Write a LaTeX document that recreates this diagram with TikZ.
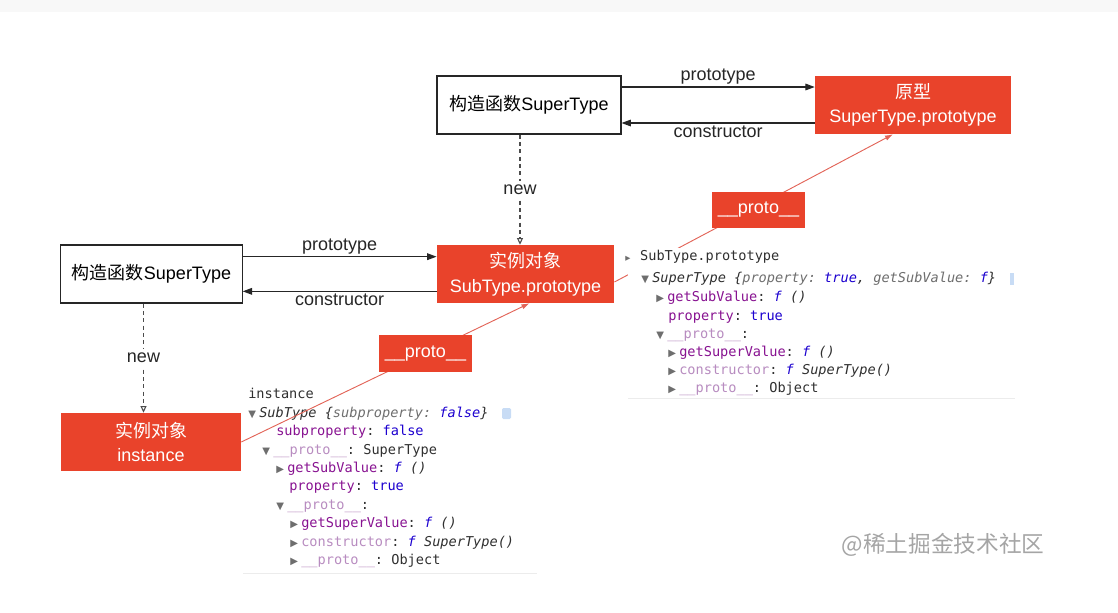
\documentclass[tikz,border=0pt]{standalone}
\usepackage{fontspec}
\setmainfont{Liberation Sans}
\setmonofont{DejaVu Sans Mono}
\newfontfamily\cjk{Noto Sans CJK SC}
\newfontfamily\symfont{DejaVu Sans}
\usetikzlibrary{calc,arrows.meta,positioning}
\definecolor{protoRed}{RGB}{233,67,43}
\definecolor{linkRed}{RGB}{226,100,88}
\definecolor{barGray}{RGB}{248,248,248}
\definecolor{consolePurple}{RGB}{136,19,145}
\definecolor{consoleDim}{RGB}{184,140,192}
\definecolor{consoleBlue}{RGB}{28,0,207}
\definecolor{consoleGray}{RGB}{110,110,110}
\definecolor{consoleText}{RGB}{48,48,48}
\definecolor{infoBlue}{RGB}{200,220,245}
\definecolor{markGray}{RGB}{165,165,165}
\newcommand{\TriDown}{{\symfont\fontsize{7.5}{8}\selectfont\color{consoleGray}▼}\hspace{2.5pt}}
\newcommand{\TriRight}{{\symfont\fontsize{7.5}{8}\selectfont\color{consoleGray}▶}\hspace{2.5pt}}
\newcommand{\Key}[1]{\textcolor{consolePurple}{#1}}
\newcommand{\DimKey}[1]{\textcolor{consoleDim}{#1}}
\newcommand{\Val}[1]{\textcolor{consoleBlue}{#1}}
\newcommand{\Fn}{\textcolor{consoleBlue}{\itshape f}}

\begin{document}
\begin{tikzpicture}[x=0.75pt,y=-0.75pt,
  boxfont/.style={font=\fontsize{13.5}{18.5}\selectfont},
  whitebox/.style={boxfont,draw=black!85,line width=0.8pt,fill=white,minimum height=43.5pt,align=center,inner sep=0pt},
  redbox/.style={boxfont,fill=protoRed,text=white,minimum height=43.5pt,align=center,inner sep=0pt},
  protobox/.style={boxfont,fill=protoRed,text=white,minimum width=70pt,minimum height=27.5pt,inner sep=0pt},
  flow/.style={black!85,line width=0.8pt,-{Triangle[length=7pt,width=5pt]}},
  newline/.style={black!70,line width=0.8pt,dash pattern=on 3pt off 2.5pt,-{Triangle[open,length=5pt,width=4.5pt]}},
  link/.style={linkRed,line width=0.7pt,-{Latex[length=6pt,width=4pt]}},
  edgelabel/.style={boxfont,text=black!85,inner sep=1.5pt},
  console/.style={anchor=west,inner sep=0pt,font=\ttfamily\fontsize{10.2}{12}\selectfont,text=consoleText}]
\useasboundingbox (0,0) rectangle (1118,612);
\fill[barGray] (0,0) rectangle (1118,12);

% constructors and prototypes
\node[whitebox,minimum width=138pt] (superCtor) at (529,105) {{\cjk 构造函数}SuperType};
\node[redbox,minimum width=147pt] (superProto) at (913,105) {{\cjk 原型}\\SuperType.prototype};
\node[redbox,minimum width=133pt] (subProto) at (525.5,274) {{\cjk 实例对象}\\SubType.prototype};
\node[whitebox,minimum width=136pt] (subCtor) at (151.5,274) {{\cjk 构造函数}SuperType};
\node[redbox,minimum width=135pt] (inst) at (151,442) {{\cjk 实例对象}\\instance};

\draw[flow] ([yshift=13.5pt]superCtor.east) -- node[edgelabel,above]{prototype} ([yshift=13.5pt]superProto.west);
\draw[flow] ([yshift=-13.5pt]superProto.west) -- node[edgelabel,below]{constructor} ([yshift=-13.5pt]superCtor.east);
\draw[flow] ([yshift=13pt]subCtor.east) -- node[edgelabel,above]{prototype} ([yshift=13pt]subProto.west);
\draw[flow] ([yshift=-13pt]subProto.west) -- node[edgelabel,below]{constructor} ([yshift=-13pt]subCtor.east);

\coordinate (newTop) at ([xshift=-6.75pt]superCtor.south);
\coordinate (newLeft) at ([xshift=-6pt]subCtor.south);
\draw[newline] (newTop) -- node[edgelabel,fill=white,inner sep=3pt]{new} (newTop |- subProto.north);
\draw[newline] (newLeft) -- node[edgelabel,fill=white,inner sep=3pt]{new} (newLeft |- inst.north);

% console: instance
\node[console] (lInst) at (248,393) {instance};
\node[console] (lSub) at (248,414) {\TriDown\textit{SubType \{\textcolor{consoleGray}{subproperty:} \Val{false}\}}};
\node[console] (lSubProp) at (276,432) {\Key{subproperty}: \Val{false}};
\node[console] (lProto) at (262,451) {\TriDown\DimKey{\_\_proto\_\_}: SuperType};
\node[console] (lGetSub) at (276,469) {\TriRight\Key{getSubValue}: \Fn\ \textit{()}};
\node[console] (lProp) at (289,487) {\Key{property}: \Val{true}};
\node[console] (lProto2) at (276,506) {\TriDown\DimKey{\_\_proto\_\_}:};
\node[console] (lGetSuper) at (290,524) {\TriRight\Key{getSuperValue}: \Fn\ \textit{()}};
\node[console] (lCons) at (290,543) {\TriRight\DimKey{constructor}: \Fn\ \textit{SuperType()}};
\node[console] (lObj) at (290,561) {\TriRight\DimKey{\_\_proto\_\_}: Object};
\fill[infoBlue,rounded corners=1pt] (502,408) rectangle (511,419);
\draw[gray!15] (243,573) -- (537,573);

% __proto__ links
\coordinate (linkStart) at ([yshift=-6pt]subProto.east);
\draw[link] (inst.east) -- ([xshift=3pt]subProto.south);
\draw[link] (linkStart) -- ([xshift=-15pt]superProto.south);

% console: SubType.prototype
\fill[white] (628,248) rectangle (1015,399);
\node[console] (rHead) at (625,257) {{\symfont\fontsize{5}{6}\selectfont\color{consoleGray}▶}\hspace{7.3pt}SubType.prototype};
\node[console] (rSuper) at (641,279) {\TriDown\textit{SuperType \{\textcolor{consoleGray}{property:} \Val{true}, \textcolor{consoleGray}{getSubValue:} \Val{f}\}}};
\node[console] (rGetSub) at (656,298) {\TriRight\Key{getSubValue}: \Fn\ \textit{()}};
\node[console] (rProp) at (668,317) {\Key{property}: \Val{true}};
\node[console] (rProto) at (656,335) {\TriDown\DimKey{\_\_proto\_\_}:};
\node[console] (rGetSuper) at (668,353) {\TriRight\Key{getSuperValue}: \Fn\ \textit{()}};
\node[console] (rCons) at (668,371) {\TriRight\DimKey{constructor}: \Fn\ \textit{SuperType()}};
\node[console] (rObj) at (668,389) {\TriRight\DimKey{\_\_proto\_\_}: Object};
\fill[infoBlue] (1010,273) rectangle (1014,285);
\draw[gray!15] (628,398) -- (1015,398);

\node[protobox] (protoLow) at (425.5,353.5) {\_\_proto\_\_};
\node[protobox] (protoHigh) at (758.5,210) {\_\_proto\_\_};

\node[font=\cjk\fontsize{17}{20}\selectfont,text=markGray] (mark) at (943,545) {@稀土掘金技术社区};
\end{tikzpicture}
\end{document}
